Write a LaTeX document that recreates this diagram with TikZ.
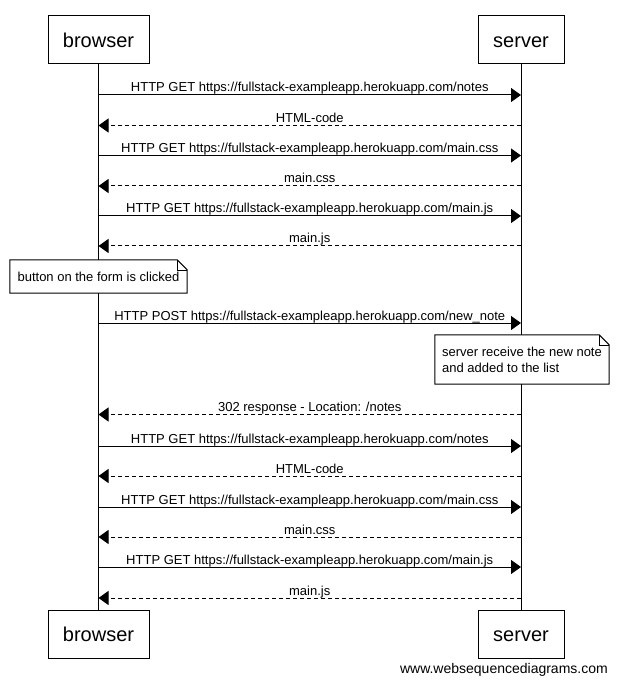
\documentclass[tikz,border=0pt]{standalone}
\usepackage{fontspec}
\setmainfont{Liberation Sans}
\usetikzlibrary{arrows.meta}
\begin{document}
\begin{tikzpicture}[x=1pt,y=-1pt,
  actor/.style={draw,line width=1pt,minimum height=48pt,inner sep=0pt,text height=16.5pt,text depth=2pt,font=\fontsize{20pt}{24pt}\selectfont},
  msg/.style={line width=1pt,-{Triangle[length=10pt,width=14pt]}},
  reply/.style={msg,dash pattern=on 4pt off 3pt},
  lbl/.style={font=\fontsize{13pt}{16pt}\selectfont,anchor=base,inner sep=0pt,yshift=3pt},
  notebox/.style={fill=white,inner sep=0pt,font=\fontsize{13pt}{16pt}\selectfont,align=left},
  noteline/.style={line width=1pt,line join=miter},
  foldline/.style={line width=0.6pt},
  life/.style={line width=1pt}]
\useasboundingbox (0,0) rectangle (617,684);
% participants
\node[actor,minimum width=101pt] (bt) at (98.5,40) {browser};
\node[actor,minimum width=86pt] (st) at (521,40) {server};
\node[actor,minimum width=101pt] (bb) at (98.5,634) {browser};
\node[actor,minimum width=86pt] (sb) at (521,634) {server};
% lifelines
\draw[life] (bt.south) -- (bb.north);
\draw[life] (st.south) -- (sb.north);
% message anchor points
\foreach \i/\y in {1/95,2/125.5,3/155.5,4/186,5/216,6/246,7/323,8/414.5,9/446,10/476,11/507,12/537,13/567,14/598}{
  \coordinate (b\i) at (98.5,\y);
  \coordinate (s\i) at (521,\y);
}
\draw[msg] (b1) -- (s1) node[midway,lbl] (l1) {HTTP GET https://fullstack-exampleapp.herokuapp.com/notes};
\draw[reply] (s2) -- (b2) node[midway,lbl] (l2) {HTML-code};
\draw[msg] (b3) -- (s3) node[midway,lbl] (l3) {HTTP GET https://fullstack-exampleapp.herokuapp.com/main.css};
\draw[reply] (s4) -- (b4) node[midway,lbl] (l4) {main.css};
\draw[msg] (b5) -- (s5) node[midway,lbl] (l5) {HTTP GET https://fullstack-exampleapp.herokuapp.com/main.js};
\draw[reply] (s6) -- (b6) node[midway,lbl] (l6) {main.js};
\draw[msg] (b7) -- (s7) node[midway,lbl] (l7) {HTTP POST https://fullstack-exampleapp.herokuapp.com/new\_note};
\draw[reply] (s8) -- (b8) node[midway,lbl] (l8) {302 response - Location: /notes};
\draw[msg] (b9) -- (s9) node[midway,lbl] (l9) {HTTP GET https://fullstack-exampleapp.herokuapp.com/notes};
\draw[reply] (s10) -- (b10) node[midway,lbl] (l10) {HTML-code};
\draw[msg] (b11) -- (s11) node[midway,lbl] (l11) {HTTP GET https://fullstack-exampleapp.herokuapp.com/main.css};
\draw[reply] (s12) -- (b12) node[midway,lbl] (l12) {main.css};
\draw[msg] (b13) -- (s13) node[midway,lbl] (l13) {HTTP GET https://fullstack-exampleapp.herokuapp.com/main.js};
\draw[reply] (s14) -- (b14) node[midway,lbl] (l14) {main.js};
% notes
\node[notebox,minimum width=177pt,minimum height=33pt] (n1) at (98.5,276.5) {button on the form is clicked};
\draw[noteline] (n1.south west) -- (n1.north west) -- ([xshift=-10pt]n1.north east) -- ([yshift=-10pt]n1.north east) -- (n1.south east) -- cycle;
\draw[foldline] ([xshift=-10pt]n1.north east) -- ([xshift=-10pt,yshift=-10pt]n1.north east) -- ([yshift=-10pt]n1.north east);
\node[notebox,minimum width=174pt,minimum height=49pt] (n2) at (522,359.5) {server receive the new note\\and added to the list};
\draw[noteline] (n2.south west) -- (n2.north west) -- ([xshift=-10pt]n2.north east) -- ([yshift=-10pt]n2.north east) -- (n2.south east) -- cycle;
\draw[foldline] ([xshift=-10pt]n2.north east) -- ([xshift=-10pt,yshift=-10pt]n2.north east) -- ([yshift=-10pt]n2.north east);
% watermark
\node[anchor=base east,inner sep=0pt,font=\fontsize{14pt}{16pt}\selectfont] (wm) at (608,673) {www.websequencediagrams.com};
\end{tikzpicture}
\end{document}
